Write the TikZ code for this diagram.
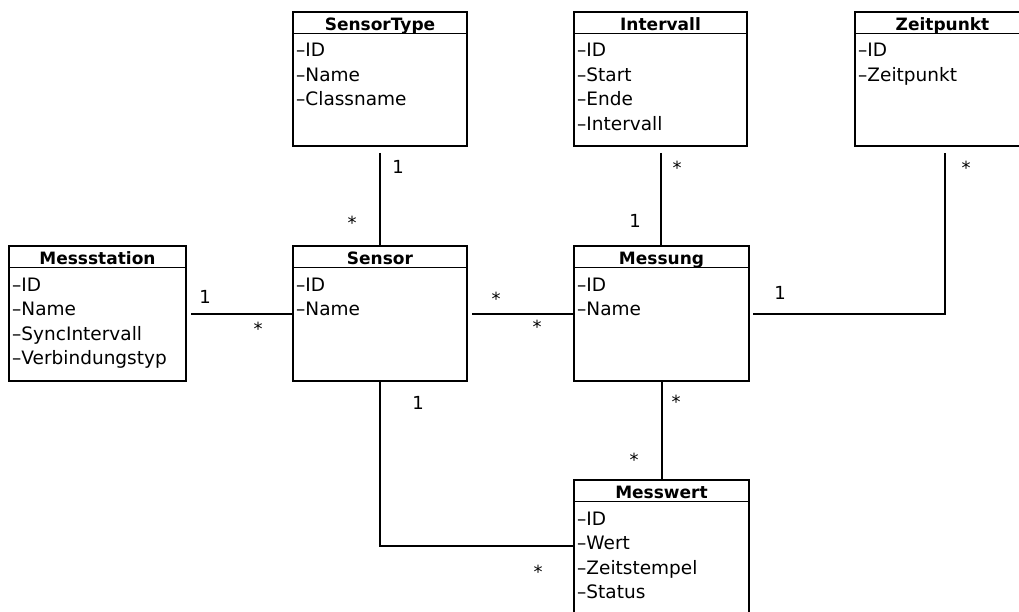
\documentclass[tikz,border=0pt]{standalone}
\usepackage{fontspec}
\setmainfont{DejaVu Sans}
\newcommand\umlclass[6]{% name, position, width, height, title, attributes
  \node[clsbox, minimum width=#3, minimum height=#4] (#1) at #2 {};
  \draw[sepline] ([yshift=-22.5pt]#1.north west) -- ([yshift=-22.5pt]#1.north east);
  \node[clstitle] (#1-title) at ([yshift=-19.5pt]#1.north) {#5};
  \foreach \a [count=\i] in {#6}
    \node[clsattr] (#1-a\i) at ([xshift=4pt,yshift={-21.5pt-24.5pt*\i}]#1.north west) {–\a};
}
\begin{document}
\begin{tikzpicture}[x=1pt,y=-1pt,
  clsbox/.style={draw, line width=2pt, anchor=north west, inner sep=0pt, fill=white},
  sepline/.style={line width=1.6pt},
  clstitle/.style={anchor=base, inner sep=0pt, font=\fontsize{17pt}{20pt}\selectfont\bfseries},
  clsattr/.style={anchor=base west, inner sep=0pt, font=\fontsize{18.5pt}{21pt}\selectfont},
  conn/.style={line width=2pt},
  mult/.style={anchor=base, inner sep=0pt, font=\fontsize{18pt}{20pt}\selectfont}]
\path[use as bounding box, fill=white] (0,0) rectangle (1019,612);
\clip (0,0) rectangle (1019,612);

\umlclass{sensortype}{(292,11)}{174}{134}{SensorType}{ID,Name,Classname}
\umlclass{intervall}{(573,11)}{173}{134}{Intervall}{ID,Start,Ende,Intervall}
\umlclass{zeitpunkt}{(854,11)}{175}{134}{Zeitpunkt}{ID,Zeitpunkt}
\umlclass{messstation}{(8,245)}{177}{135}{Messstation}{ID,Name,SyncIntervall,Verbindungstyp}
\umlclass{sensor}{(292,245)}{174}{135}{Sensor}{ID,Name}
\umlclass{messung}{(573,245)}{175}{135}{Messung}{ID,Name}
\umlclass{messwert}{(573,479)}{175}{145}{Messwert}{ID,Wert,Zeitstempel,Status}

\coordinate (mw-in) at ([yshift=-67pt]messwert.north west);

\draw[conn, shorten <=6pt] (sensortype.south) -- (sensor.north);
\draw[conn, shorten <=6pt] (intervall.south) -- (intervall.south |- messung.north);
\draw[conn, shorten <=4pt] (messstation.east) -- (sensor.west);
\draw[conn, shorten <=4pt] (sensor.east) -- (messung.west);
\draw[conn, shorten <=3pt, shorten >=6pt] (messung.east) -| ([xshift=2.5pt]zeitpunkt.south);
\draw[conn] (messung.south) -- (messwert.north);
\draw[conn] (sensor.south) |- (mw-in);

\node[mult] (m1) at (398,174) {1};
\node[mult] (m2) at (352,230) {*};
\node[mult] (m3) at (677,175) {*};
\node[mult] (m4) at (635,228) {1};
\node[mult] (m5) at (966,175) {*};
\node[mult] (m6) at (205,303) {1};
\node[mult] (m7) at (258,335) {*};
\node[mult] (m8) at (496,305) {*};
\node[mult] (m9) at (537,333) {*};
\node[mult] (m10) at (780,299) {1};
\node[mult] (m11) at (676,408) {*};
\node[mult] (m12) at (634,466) {*};
\node[mult] (m13) at (418,409) {1};
\node[mult] (m14) at (538,578) {*};
\end{tikzpicture}
\end{document}
